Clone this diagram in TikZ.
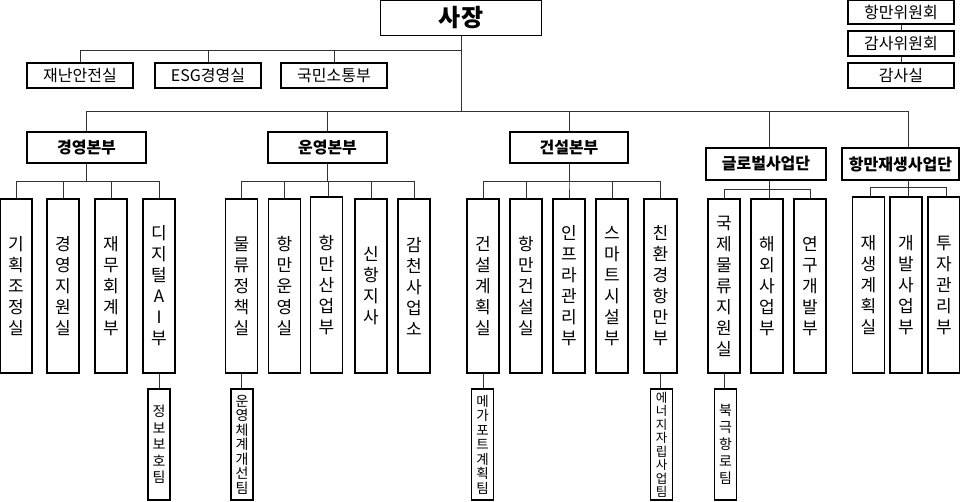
\documentclass[tikz,border=0pt]{standalone}
\usepackage{fontspec}
\newfontfamily\kr{Noto Sans CJK KR}
\usetikzlibrary{positioning}

\tikzset{
  box/.style={draw, line width=1.1pt, inner sep=0pt, align=center},
  headbox/.style={box, font=\kr\bfseries\fontsize{16}{18}\selectfont},
  staffbox/.style={box, minimum width=106pt, minimum height=25pt, font=\kr\fontsize{16}{18}\selectfont},
  unitbox/.style={box, minimum width=32pt, minimum height=174pt, font=\kr\fontsize{17}{21}\selectfont},
  teambox/.style={box, minimum width=22pt, minimum height=111pt, font=\kr\fontsize{14}{16}\selectfont},
  link/.style={draw=black!80, line width=0.9pt}
}

\begin{document}
\begin{tikzpicture}[x=1pt, y=-1pt]
    \useasboundingbox (0,0) rectangle (960,501);
    % top
    \node[box, minimum width=161pt, minimum height=35pt, font=\kr\bfseries\fontsize{24}{26}\selectfont] (ceo) at (461,18) {사장};
    % committees
    \node[staffbox, minimum height=24pt] (portcom) at (901,12) {항만위원회};
    \node[staffbox] (auditcom) at (901,43.5) {감사위원회};
    \node[staffbox] (audit) at (901,75.5) {감사실};
    \draw[link] (portcom) -- (auditcom);
    \draw[link] (auditcom) -- (audit);
    % staff
    \node[staffbox] (safety) at (80,75.5) {재난안전실};
    \node[staffbox] (esg) at (208,75.5) {ESG경영실};
    \node[staffbox] (comm) at (334,75.5) {국민소통부};
    \draw[link] (ceo.south) -- ++(0,14) -| (safety.north);
    \draw[link] (ceo.south) -- ++(0,14) -| (esg.north);
    \draw[link] (ceo.south) -- ++(0,14) -| (comm.north);
    % divisions
    \node[headbox, minimum width=119pt, minimum height=31pt] (mgmt) at (86.5,147.5) {경영본부};
    \node[headbox, minimum width=119pt, minimum height=31pt] (oper) at (327.5,147.5) {운영본부};
    \node[headbox, minimum width=118pt, minimum height=31pt] (cons) at (569,147.5) {건설본부};
    \node[headbox, minimum width=120pt, minimum height=32pt] (glob) at (766,164) {글로벌사업단};
    \node[headbox, minimum width=117pt, minimum height=32pt] (regen) at (900.5,164) {항만재생사업단};
    \draw[link] (ceo.south) -- ++(0,75) coordinate (mainbus);
    \draw[link] (mainbus) -| (mgmt.north);
    \draw[link] (mainbus) -| (oper.north);
    \draw[link] (mainbus) -| (cons.north);
    \draw[link] (mainbus) -| ([xshift=3pt]glob.north);
    \draw[link] (mainbus) -| ([xshift=8pt]regen.north);
    % mgmt units
    \node[unitbox] (plan) at (16,286) {기\\획\\조\\정\\실};
    \node[unitbox] (support) at (63,286) {경\\영\\지\\원\\실};
    \node[unitbox] (finance) at (111,286) {재\\무\\회\\계\\부};
    \node[unitbox] (dai) at (159,286) {디\\지\\털\\A\\I\\부};
    \draw[link] (mgmt.south) -- ++(0,18) -| (plan.north);
    \draw[link] (mgmt.south) -- ++(0,18) -| (support.north);
    \draw[link] (mgmt.south) -- ++(0,18) -| (finance.north);
    \draw[link] (mgmt.south) -- ++(0,18) -| (dai.north);
    % oper units
    \node[unitbox] (logis) at (241.5,286) {물\\류\\정\\책\\실};
    \node[unitbox] (portop) at (284.5,286) {항\\만\\운\\영\\실};
    \node[unitbox, minimum height=176pt] (industry) at (326.5,285) {항\\만\\산\\업\\부};
    \node[unitbox] (newport) at (371,286) {신\\항\\지\\사};
    \node[unitbox] (gamcheon) at (414,286) {감\\천\\사\\업\\소};
    \draw[link] (oper.south) -- ++(0,18) -| (logis.north);
    \draw[link] (oper.south) -- ++(0,18) -| (portop.north);
    \draw[link] (oper.south) -- ++(0,18) -| ([xshift=1.5pt]industry.north);
    \draw[link] (oper.south) -- ++(0,18) -| (newport.north);
    \draw[link] (oper.south) -- ++(0,18) -| (gamcheon.north);
    % cons units
    \node[unitbox] (consplan) at (483,286) {건\\설\\계\\획\\실};
    \node[unitbox] (portcons) at (526,286) {항\\만\\건\\설\\실};
    \node[unitbox] (infra) at (569,286) {인\\프\\라\\관\\리\\부};
    \node[unitbox] (smart) at (612,286) {스\\마\\트\\시\\설\\부};
    \node[unitbox, minimum width=33pt] (green) at (660.5,286) {친\\환\\경\\항\\만\\부};
    \draw[link] (cons.south) -- ++(0,18) -| (consplan.north);
    \draw[link] (cons.south) -- ++(0,18) -| (portcons.north);
    \draw[link] (cons.south) -- ++(0,18) -| (infra.north);
    \draw[link] (cons.south) -- ++(0,18) -| (smart.north);
    \draw[link] (cons.south) -- ++(0,18) -| (green.north);
    % glob units
    \node[unitbox] (intlog) at (724,286) {국\\제\\물\\류\\지\\원\\실};
    \node[unitbox] (overseas) at (767,286) {해\\외\\사\\업\\부};
    \node[unitbox] (rnd) at (810,286) {연\\구\\개\\발\\부};
    \draw[link] ([xshift=3pt]glob.south) -- ++(0,9) -| (intlog.north);
    \draw[link] ([xshift=3pt]glob.south) -- ++(0,9) -| ([xshift=2pt]overseas.north);
    \draw[link] ([xshift=3pt]glob.south) -- ++(0,9) -| (rnd.north);
    % regen units
    \node[unitbox, minimum height=176pt] (regenplan) at (868.5,285) {재\\생\\계\\획\\실};
    \node[unitbox, minimum height=176pt] (devel) at (906,285) {개\\발\\사\\업\\부};
    \node[unitbox, minimum height=176pt] (invest) at (944,285) {투\\자\\관\\리\\부};
    \draw[link] ([xshift=8pt]regen.south) -- ++(0,7) -| ([xshift=1.5pt]regenplan.north);
    \draw[link] ([xshift=8pt]regen.south) -- ++(0,7) -| ([xshift=2pt]devel.north);
    \draw[link] ([xshift=8pt]regen.south) -- ++(0,7) -| ([xshift=2pt]invest.north);
    % teams
    \node[teambox, font=\kr\fontsize{14}{16.5}\selectfont] (security) at (159,444.5) {정\\보\\보\\호\\팀};
    \node[teambox, font=\kr\fontsize{14}{14.5}\selectfont] (opsys) at (242,444.5) {운\\영\\체\\계\\개\\선\\팀};
    \node[teambox, font=\kr\fontsize{13.5}{14.5}\selectfont] (megaport) at (482.5,444.5) {메\\가\\포\\트\\계\\획\\팀};
    \node[teambox, font=\kr\fontsize{12.5}{13.5}\selectfont] (energy) at (661.5,444.5) {에\\너\\지\\자\\립\\사\\업\\팀};
    \node[teambox, font=\kr\fontsize{14}{17}\selectfont] (arctic) at (725.5,444.5) {북\\극\\항\\로\\팀};
    \draw[link] (dai.south) -- (security.north);
    \draw[link] (logis.south) -- (logis.south |- opsys.north);
    \draw[link] (consplan.south) -- (consplan.south |- megaport.north);
    \draw[link] (green.south) -- (green.south |- energy.north);
    \draw[link] (intlog.south) -- (intlog.south |- arctic.north);
\end{tikzpicture}
\end{document}
